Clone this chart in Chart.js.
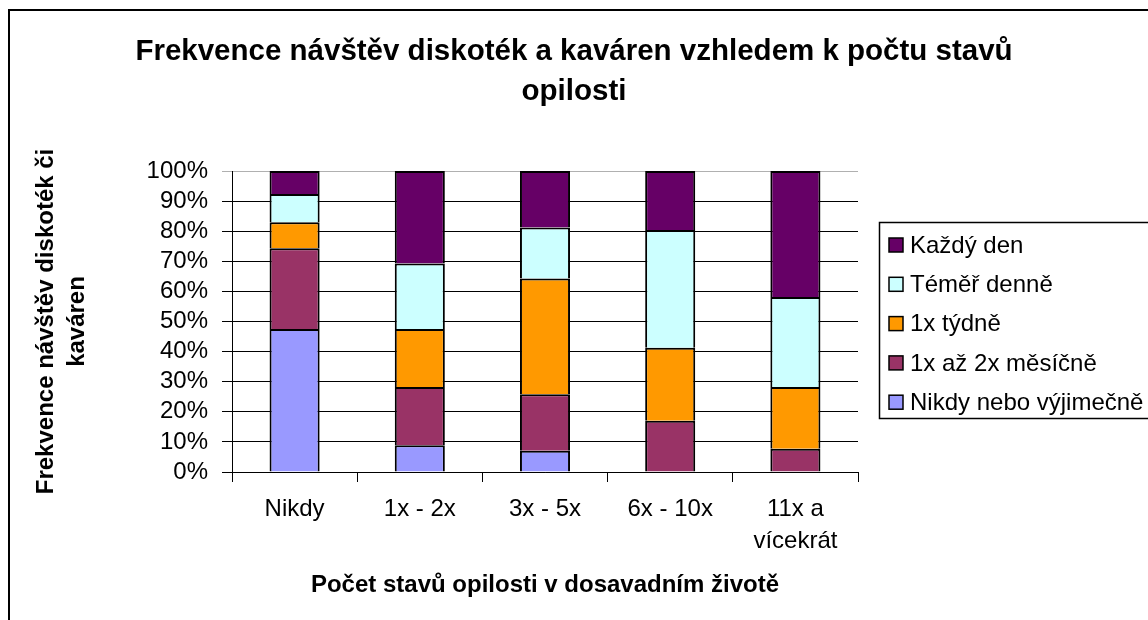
<!DOCTYPE html>
<html>
<head>
<meta charset="utf-8">
<title>Frekvence návštěv diskoték a kaváren</title>
<script src="https://cdn.jsdelivr.net/npm/chart.js@4.4.1/dist/chart.umd.min.js"></script>
<style>
  html, body { margin: 0; padding: 0; background: #fff; overflow: hidden; }
  #wrap { width: 1148px; height: 620px; }
</style>
</head>
<body>
<div id="wrap"><canvas id="chart" width="1148" height="620"></canvas></div>
<script>
// categories (x axis)
const categories = ["Nikdy", "1x - 2x", "3x - 5x", "6x - 10x", ["11x a", "vícekrát"]];

// series values in %
const nikdyVyjimecne = [47.5, 8.9, 7.1, 0, 0];
const mesicne = [26.8, 19.3, 18.7, 17.0, 7.7];
const tydne = [8.7, 19.3, 38.5, 24.3, 20.5];
const temerDenne = [9.4, 21.8, 16.9, 39.1, 29.9];
const kazdyDen = [7.6, 30.7, 18.8, 19.6, 41.9];

const seriesNames = ["Nikdy nebo výjimečně", "1x až 2x měsíčně", "1x týdně", "Téměř denně", "Každý den"];
const seriesColors = ["#9999FF", "#993366", "#FF9900", "#CCFFFF", "#660066"];

// y axis ticks
const yTicks = [0, 10, 20, 30, 40, 50, 60, 70, 80, 90, 100];

const FONT = '"Liberation Sans", Arial, sans-serif';

// frame around the whole chart + boxed legend like the original
const frameAndLegend = {
  id: 'frameAndLegend',
  beforeDraw(chart) {
    const ctx = chart.ctx;
    ctx.save();
    ctx.fillStyle = '#fff';
    ctx.fillRect(0, 0, chart.width, chart.height);
    ctx.restore();
  },
  afterDraw(chart) {
    const ctx = chart.ctx;
    ctx.save();
    ctx.strokeStyle = '#000';
    ctx.lineWidth = 2;
    ctx.strokeRect(9, 10, 1300, 800);

    ctx.lineWidth = 1.5;
    ctx.strokeRect(879.5, 222.5, 400, 196);

    const items = chart.data.datasets.slice().reverse();
    ctx.font = '24px ' + FONT;
    ctx.textBaseline = 'middle';
    ctx.textAlign = 'left';
    items.forEach((ds, i) => {
      const y = 245 + i * 39.3;
      ctx.fillStyle = ds.backgroundColor;
      ctx.fillRect(889, y - 7, 14, 14);
      ctx.lineWidth = 1.5;
      ctx.strokeStyle = '#000';
      ctx.strokeRect(889, y - 7, 14, 14);
      ctx.fillStyle = '#000';
      ctx.fillText(ds.label, 910, y + 1);
    });
    ctx.restore();
  }
};

const seriesData = [nikdyVyjimecne, mesicne, tydne, temerDenne, kazdyDen];

const datasets = seriesData.map((vals, i) => ({
  label: seriesNames[i],
  data: vals,
  backgroundColor: seriesColors[i],
  borderColor: '#000',
  borderWidth: 2,
  categoryPercentage: 0.8,
  barPercentage: 0.5
}));

const ctx = document.getElementById('chart').getContext('2d');
const chart = new Chart(ctx, {
  type: 'bar',
  data: { labels: categories, datasets: datasets },
  plugins: [frameAndLegend],
  options: {
    responsive: false,
    animation: false,
    layout: { padding: { left: 9, right: 9, top: 0, bottom: 0 } },
    plugins: {
      legend: { display: false },
      tooltip: { enabled: false },
      title: {
        display: true,
        text: ["Frekvence návštěv diskoték a kaváren vzhledem k počtu stavů", "opilosti"],
        color: '#000',
        font: { family: FONT, size: 29.5, weight: 'bold', lineHeight: 40 / 29.5 },
        padding: { top: 32, bottom: 59 }
      }
    },
    scales: {
      x: {
        stacked: true,
        grid: { drawOnChartArea: false, tickLength: 10, color: '#000', offset: true },
        border: { color: '#000', width: 1 },
        ticks: {
          color: '#000',
          font: { family: FONT, size: 24, lineHeight: 32 / 24 },
          padding: 11,
          maxRotation: 0,
          autoSkip: false
        },
        title: {
          display: true,
          text: "Počet stavů opilosti v dosavadním životě",
          color: '#000',
          font: { family: FONT, size: 24, weight: 'bold' },
          padding: { top: 0, bottom: 20 }
        },
        afterFit(scale) { scale.height = 620 - 472; }
      },
      y: {
        stacked: true,
        min: 0,
        max: 100,
        afterBuildTicks(scale) { scale.ticks = yTicks.map(v => ({ value: v })); },
        grid: {
          tickLength: 10,
          lineWidth: 1,
          color: c => (c.tick && c.tick.value === 100) ? '#b0b0b0' : '#000'
        },
        border: { color: '#000', width: 1 },
        ticks: {
          color: '#000',
          font: { family: FONT, size: 24 },
          padding: 14,
          autoSkip: false,
          callback: v => v + '%'
        },
        title: {
          display: true,
          text: ["Frekvence návštěv diskoték či", "kaváren"],
          color: '#000',
          font: { family: FONT, size: 24, weight: 'bold' , lineHeight: 31 / 24 },
          padding: { top: 22, bottom: 0 }
        },
        afterFit(scale) { scale.width = 232 - 9; }
      },
      // empty right-hand box that reserves room for the legend
      legendSpace: {
        type: 'linear',
        position: 'right',
        display: true,
        grid: { display: false, drawTicks: false },
        border: { display: false },
        ticks: { display: false },
        afterFit(scale) { scale.width = 1148 - 9 - 858; }
      }
    }
  }
});
</script>
</body>
</html>
